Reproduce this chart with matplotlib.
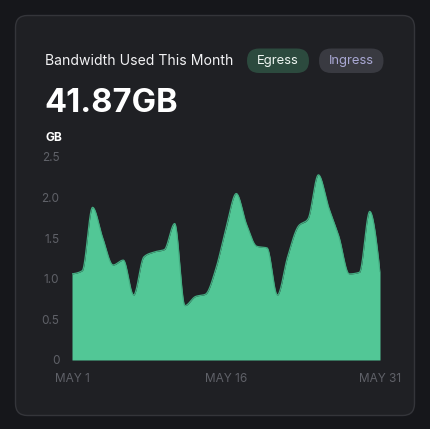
import numpy as np
import matplotlib
matplotlib.use("Agg")
import matplotlib.pyplot as plt
from matplotlib.patches import FancyBboxPatch

# ---- data ----
days = list(range(1, 32))
egress_gb = [1.06, 1.10, 1.88, 1.50, 1.17, 1.23, 0.80, 1.27, 1.33, 1.36,
             1.68, 0.67, 0.78, 0.81, 1.12, 1.62, 2.05, 1.67, 1.40, 1.38,
             0.80, 1.27, 1.64, 1.74, 2.28, 1.88, 1.52, 1.06, 1.08, 1.83, 1.09]
x_tick_days = [1, 16, 31]
x_tick_labels = ["MAY 1", "MAY 16", "MAY 31"]
y_ticks = [0, 0.5, 1.0, 1.5, 2.0, 2.5]
y_tick_labels = ["0", "0.5", "1.0", "1.5", "2.0", "2.5"]
title = "Bandwidth Used This Month"
total_label = "41.87GB"
unit_label = "GB"
tabs = ["Egress", "Ingress"]


def monotone_curve(x, y, n=40):
    """Monotone cubic (d3 curveMonotoneX style) rendering of the series."""
    x = np.asarray(x, float)
    y = np.asarray(y, float)
    k = len(x)
    h = np.diff(x)
    s = np.diff(y) / h
    m = np.zeros(k)
    for i in range(1, k - 1):
        h0, h1 = h[i - 1], h[i]
        s0, s1 = s[i - 1], s[i]
        p = (s0 * h1 + s1 * h0) / (h0 + h1)
        m[i] = (np.sign(s0) + np.sign(s1)) * min(abs(s0), abs(s1), 0.5 * abs(p))
    m[0] = (3 * s[0] - m[1]) / 2
    m[-1] = (3 * s[-1] - m[-2]) / 2
    xs, ys = [], []
    for i in range(k - 1):
        t = np.linspace(0, 1, n, endpoint=(i == k - 2))
        h00 = 2 * t**3 - 3 * t**2 + 1
        h10 = t**3 - 2 * t**2 + t
        h01 = -2 * t**3 + 3 * t**2
        h11 = t**3 - t**2
        xs.append(x[i] + t * h[i])
        ys.append(h00 * y[i] + h10 * h[i] * m[i] + h01 * y[i + 1] + h11 * h[i] * m[i + 1])
    return np.concatenate(xs), np.concatenate(ys)


W, H = 430, 429
fig = plt.figure(figsize=(W / 100, H / 100), dpi=100)
fig.patch.set_facecolor("#16171b")

# background / card layer in pixel coordinates
bg = fig.add_axes([0, 0, 1, 1])
bg.set_xlim(0, W)
bg.set_ylim(H, 0)
bg.axis("off")
bg.add_patch(FancyBboxPatch((15.5, 15.5), 399, 400, boxstyle="round,pad=0,rounding_size=12",
                            fc="#1f2024", ec="#34353a", lw=1.0))

font = ["Inter", "DejaVu Sans"]
bg.text(45, 61, title, color="#f2f2f4", fontsize=10.1, family=font, va="center", ha="left")
# tabs
bg.add_patch(FancyBboxPatch((247, 48.5), 62, 24.5, boxstyle="round,pad=0,rounding_size=12.2",
                            fc="#2c4a3e", ec="none"))
bg.text(278, 61, tabs[0], color="#eef5f1", fontsize=9.4, family=font, va="center", ha="center")
bg.add_patch(FancyBboxPatch((319, 48.5), 64.5, 24.5, boxstyle="round,pad=0,rounding_size=12.2",
                            fc="#393a41", ec="none"))
bg.text(351.5, 61, tabs[1], color="#a9a8d4", fontsize=9.4, family=font, va="center", ha="center")

bg.text(44, 103, total_label, color="#ffffff", fontsize=23.5, fontweight="bold",
        family=font, va="center", ha="left")
bg.text(46, 138, unit_label, color="#ffffff", fontsize=8.6, fontweight="bold",
        family=font, va="center", ha="left")

# chart axes
ax = fig.add_axes([72 / W, (H - 360) / H, 308 / W, 203 / H])
ax.set_facecolor("none")
xs, ys = monotone_curve(days, egress_gb)
ax.fill_between(xs, 0, ys, color="#52c796", lw=0)
ax.plot(xs, ys, color="#44ad82", lw=0.9)
ax.set_xlim(days[0], days[-1])
ax.set_ylim(0, 2.5)
for sp in ax.spines.values():
    sp.set_visible(False)
ax.set_yticks(y_ticks)
ax.set_yticklabels(y_tick_labels)
ax.set_xticks(x_tick_days)
ax.set_xticklabels(x_tick_labels)
ax.tick_params(length=0, colors="#5f6168", labelsize=8.5, pad=9)
ax.tick_params(axis="y", pad=9)
for lbl in ax.get_xticklabels() + ax.get_yticklabels():
    lbl.set_family(font)

fig.savefig("out.png", dpi=100, facecolor=fig.get_facecolor())
